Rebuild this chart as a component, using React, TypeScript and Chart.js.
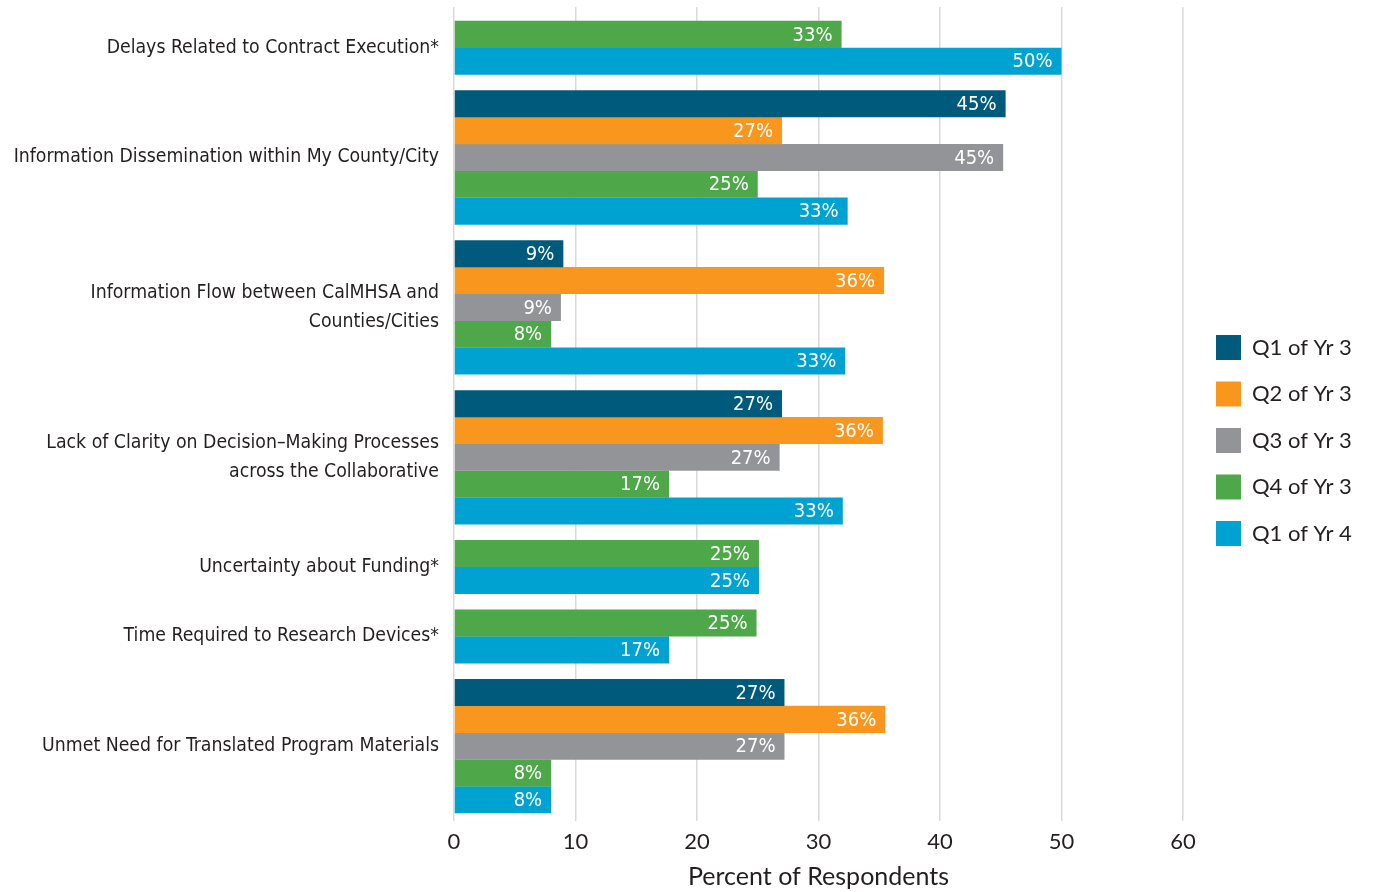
import React, { useEffect, useRef } from 'react';
import { Chart, registerables } from 'chart.js';

Chart.register(...registerables);

// ---------- data ----------
const categories: (string | string[])[] = [
  'Delays Related to Contract Execution*',
  'Information Dissemination within My County/City',
  ['Information Flow between CalMHSA and', 'Counties/Cities'],
  ['Lack of Clarity on Decision\u2013Making Processes', 'across the Collaborative'],
  'Uncertainty about Funding*',
  'Time Required to Research Devices*',
  'Unmet Need for Translated Program Materials',
];

const seriesNames = ['Q1 of Yr 3', 'Q2 of Yr 3', 'Q3 of Yr 3', 'Q4 of Yr 3', 'Q1 of Yr 4'];
const seriesColors = ['#005a7b', '#f8961d', '#929497', '#4ea748', '#00a2d1'];

const q1Yr3 = [null, 45.4, 9.0, 27.0, null, null, 27.2];
const q2Yr3 = [null, 27.0, 35.4, 35.3, null, null, 35.5];
const q3Yr3 = [null, 45.2, 8.8, 26.8, null, null, 27.2];
const q4Yr3 = [31.9, 25.0, 8.0, 17.7, 25.1, 24.9, 8.0];
const q1Yr4 = [50.0, 32.4, 32.2, 32.0, 25.1, 17.7, 8.0];

const q1Yr3Labels = [null, '45%', '9%', '27%', null, null, '27%'];
const q2Yr3Labels = [null, '27%', '36%', '36%', null, null, '36%'];
const q3Yr3Labels = [null, '45%', '9%', '27%', null, null, '27%'];
const q4Yr3Labels = ['33%', '25%', '8%', '17%', '25%', '25%', '8%'];
const q1Yr4Labels = ['50%', '33%', '33%', '33%', '25%', '17%', '8%'];

const xTicks = [0, 10, 20, 30, 40, 50, 60];
const xTitle = 'Percent of Respondents';

// ---------- layout constants (in bar-slot units) ----------
const GROUP_GAP = 0.59;
const TOP_PAD = 0.52;
const BOTTOM_PAD = 0.29;

const NARROW = '"Liberation Sans Narrow", "DejaVu Sans Condensed", "Roboto Condensed", Arial, sans-serif';
const GEO = 'Lato, "Noto Sans", sans-serif';
const TEXT = '#231f20';

export default function App() {
  const ref = useRef<HTMLCanvasElement | null>(null);

  useEffect(() => {
    if (!ref.current) return;
    const values = [q1Yr3, q2Yr3, q3Yr3, q4Yr3, q1Yr4];
    const labels = [q1Yr3Labels, q2Yr3Labels, q3Yr3Labels, q4Yr3Labels, q1Yr4Labels];

    // slot positions for each present bar, grouped by category
    const points: { x: number; y: number; label: string }[][] = values.map(() => []);
    const centers: number[] = [];
    let cursor = TOP_PAD;
    categories.forEach((_, ci) => {
      const start = cursor;
      values.forEach((vals, si) => {
        const v = vals[ci];
        if (v !== null && v !== undefined) {
          points[si].push({ x: v as number, y: cursor + 0.5, label: labels[si][ci] as string });
          cursor += 1;
        }
      });
      centers.push((start + cursor) / 2);
      cursor += GROUP_GAP;
    });
    const yMax = cursor - GROUP_GAP + BOTTOM_PAD;

    const dataLabels = {
      id: 'dataLabels',
      afterDatasetsDraw(chart: any) {
        const ctx = chart.ctx;
        ctx.save();
        ctx.font = `20px ${NARROW}`;
        ctx.fillStyle = '#ffffff';
        ctx.textAlign = 'right';
        ctx.textBaseline = 'middle';
        chart.data.datasets.forEach((ds: any, di: number) => {
          const meta = chart.getDatasetMeta(di);
          meta.data.forEach((el: any, i: number) => {
            const lab = ds.data[i].label;
            if (lab) ctx.fillText(lab, el.x - 9, el.y + 1);
          });
        });
        ctx.restore();
      },
    };

    const LEGEND_W = 207;
    const LEGEND_DX = 11.5;
    const LEGEND_DY = -9;
    const legendFix = {
      id: 'legendFix',
      beforeLayout(chart: any) {
        const lg = chart.legend;
        if (lg && !lg.__patched) {
          const orig = lg.fit.bind(lg);
          lg.fit = function () {
            orig();
            this.width = LEGEND_W;
          };
          lg.__patched = true;
        }
      },
      afterLayout(chart: any) {
        const lg = chart.legend;
        if (lg) {
          lg.left += LEGEND_DX;
          lg.right += LEGEND_DX;
          lg.top += LEGEND_DY;
          lg.bottom += LEGEND_DY;
        }
      },
    };

    const chart = new Chart(ref.current, {
      type: 'bar',
      data: {
        datasets: seriesNames.map((name, si) => ({
          label: name,
          data: points[si] as any,
          backgroundColor: seriesColors[si],
          borderWidth: 0,
          grouped: false,
          categoryPercentage: 1,
          barPercentage: 1.01,
        })),
      },
      plugins: [dataLabels, legendFix],
      options: {
        indexAxis: 'y',
        animation: false,
        responsive: true,
        maintainAspectRatio: false,
        layout: { padding: { top: 7, right: 0, bottom: 0, left: 0 } },
        scales: {
          x: {
            type: 'linear',
            position: 'bottom',
            min: 0,
            max: 60,
            afterBuildTicks: (scale: any) => {
              scale.ticks = xTicks.map((v) => ({ value: v }));
            },
            afterFit: (scale: any) => {
              scale.height = 71;
            },
            grid: { color: '#d9d9d9', lineWidth: 1.5, drawTicks: false },
            border: { display: false },
            ticks: { color: TEXT, font: { family: GEO, size: 22 }, padding: 8, maxRotation: 0 },
            title: {
              display: true,
              text: xTitle,
              color: TEXT,
              font: { family: GEO, size: 25 },
              padding: { top: 0, bottom: 0 },
            },
          },
          y: {
            type: 'linear',
            reverse: true,
            offset: false,
            min: 0,
            max: yMax,
            afterBuildTicks: (scale: any) => {
              scale.ticks = centers.map((v) => ({ value: v }));
            },
            afterFit: (scale: any) => {
              scale.width = 454;
              scale.paddingTop = 0;
              scale.paddingBottom = 0;
            },
            grid: { display: false, drawTicks: false, offset: false },
            border: { display: false },
            ticks: {
              autoSkip: false,
              padding: 15,
              color: TEXT,
              font: { family: NARROW, size: 19.3, lineHeight: 1.5 },
              callback: (_v: any, i: number) => categories[i] as any,
            },
          },
        },
        plugins: {
          legend: {
            position: 'right',
            align: 'center',
            labels: {
              boxWidth: 25,
              boxHeight: 25,
              padding: 21.5,
              color: TEXT,
              font: { family: GEO, size: 22 },
            },
          },
          tooltip: { enabled: false },
        },
      },
    });
    return () => chart.destroy();
  }, []);

  return (
    <div style={{ position: 'fixed', left: 0, top: 0, width: 1390, height: 892, background: '#fff' }}>
      <canvas ref={ref} />
    </div>
  );
}
